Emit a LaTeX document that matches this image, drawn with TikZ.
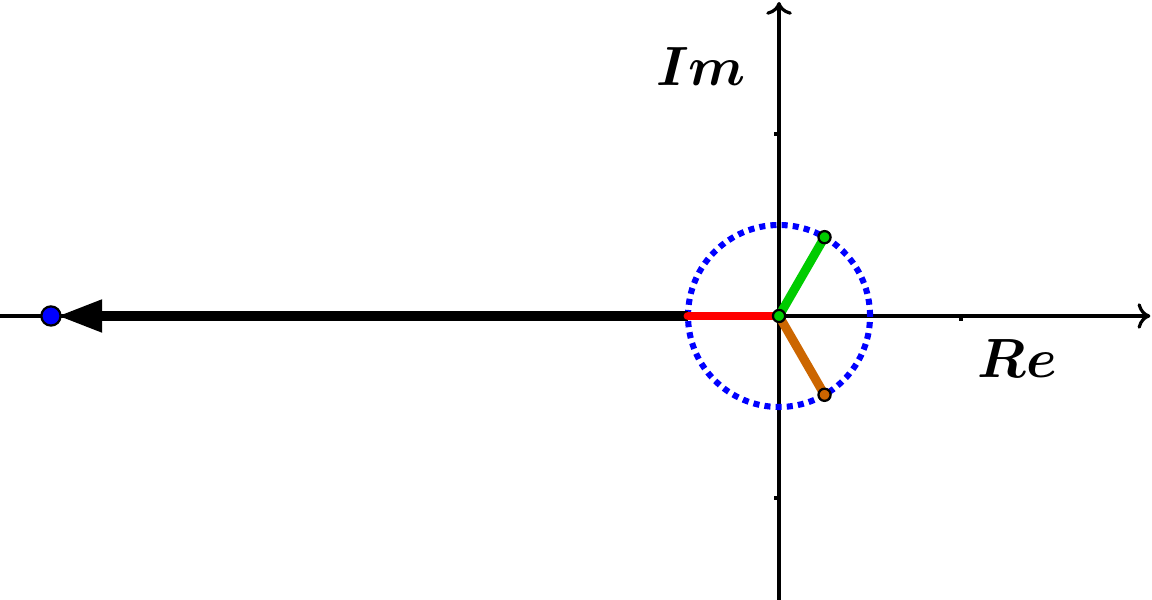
\documentclass[tikz,border=0pt]{standalone}
\usepackage{amsmath, amssymb}
\usepackage{xcolor}
\usepackage{tikz}
\usetikzlibrary{arrows.meta}

\definecolor{rootgreen}{RGB}{0,204,0}
\definecolor{rootbrown}{RGB}{204,102,0}

\begin{document}
\begin{tikzpicture}[x=2cm, y=2cm,
  axis/.style={line width=1pt, -{To[length=4pt,width=8pt]}},
  root/.style={line width=2.8pt, line cap=round},
  dot/.style={draw=black, line width=0.7pt},
  lbl/.style={font=\fontsize{16}{19}\selectfont}]

\useasboundingbox (-4.280,-1.560) rectangle (2.049,1.736);

\coordinate (O) at (0,0);
\coordinate (A) at (60:0.5);
\coordinate (B) at (-60:0.5);
\coordinate (C) at (180:0.5);
\coordinate (P) at (-4,0);
\coordinate (Xl) at (-4.28,0);
\coordinate (Xr) at (2.04,0);
\coordinate (Yb) at (0,-1.56);
\coordinate (Yt) at (0,1.725);

% axes and ticks
\draw[axis] (Xl) -- (Xr);
\draw[axis] (Yb) -- (Yt);
\foreach \x in {-3,-2,-1,1}
  \draw[line width=1pt] (\x,0) -- (\x,-0.025);
\foreach \y in {-1,1}
  \draw[line width=1pt] (0,\y) -- (-0.025,\y);

\node[lbl] (im) at (-0.429,1.368) {$\boldsymbol{Im}$};
\node[lbl] (re) at (1.308,-0.236) {$\boldsymbol{Re}$};

% unit circle
\draw[blue, line width=1.9pt, dash pattern=on 1.9pt off 1.6pt] (O) circle (0.5);

% long arrow to the far root
\draw[line width=3pt, -{Triangle[length=14pt,width=9.5pt]}, shorten >=2pt] (C) -- (P);

\draw[root, red] (O) -- (C);
\draw[root, rootbrown] (O) -- (B);
\draw[root, rootgreen] (O) -- (A);

\filldraw[dot, fill=blue] (P) circle (3pt);
\filldraw[dot, fill=rootgreen] (A) circle (1.9pt);
\filldraw[dot, fill=rootbrown] (B) circle (1.9pt);
\filldraw[dot, fill=rootgreen] (O) circle (1.9pt);

\end{tikzpicture}
\end{document}
